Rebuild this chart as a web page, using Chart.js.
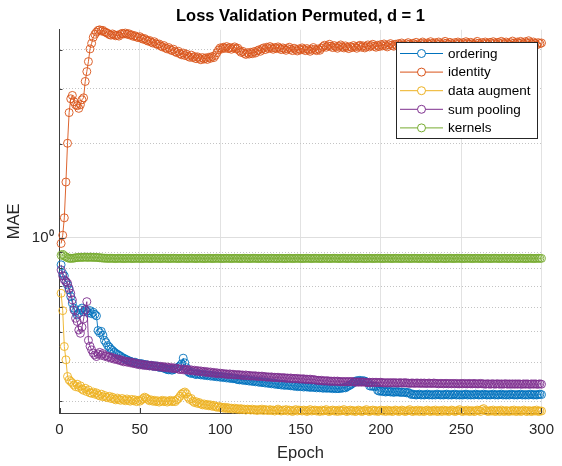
<!DOCTYPE html>
<html>
<head>
<meta charset="utf-8">
<script src="https://cdn.jsdelivr.net/npm/chart.js@4.4.1/dist/chart.umd.min.js"></script>
<style>
  html, body { margin: 0; padding: 0; background: #fff; }
  #wrap { width: 562px; height: 466px; }
</style>
</head>
<body>
<div id="wrap"><canvas id="loss-chart" width="562" height="466"></canvas></div>
<script>
const epochs = Array.from({ length: 300 }, (_, i) => i + 1);
const seriesNames = ["ordering", "identity", "data augment", "sum pooling", "kernels"];
const seriesColors = ["#0072BD", "#D95319", "#EDB120", "#7E2F8E", "#77AC30"];
const xTicks = [0, 50, 100, 150, 200, 250, 300];
const yTicks = [0.3, 0.4, 0.5, 0.6, 0.7, 0.8, 0.9, 1, 2, 3, 4];
const yMin = 0.275, yMax = 4.64;

const ordering = [
  0.82,0.77,0.756,0.725,0.707,0.682,0.649,0.618,0.596,0.581,
  0.567,0.574,0.588,0.596,0.580,0.590,0.583,0.576,0.585,0.572,
  0.578,0.569,0.563,0.505,0.497,0.502,0.488,0.470,0.462,0.452,
  0.447,0.440,0.436,0.431,0.427,0.424,0.421,0.418,0.414,0.412,
  0.409,0.407,0.404,0.403,0.401,0.399,0.400,0.397,0.396,0.395,
  0.396,0.394,0.392,0.393,0.391,0.390,0.391,0.389,0.388,0.389,
  0.387,0.385,0.386,0.384,0.383,0.381,0.379,0.378,0.380,0.377,
  0.379,0.381,0.383,0.386,0.389,0.395,0.412,0.398,0.384,0.373,
  0.370,0.368,0.371,0.367,0.365,0.368,0.366,0.364,0.366,0.363,
  0.365,0.362,0.364,0.361,0.363,0.360,0.362,0.359,0.361,0.358,
  0.360,0.357,0.359,0.356,0.358,0.355,0.357,0.354,0.356,0.353,
  0.352,0.351,0.353,0.350,0.352,0.349,0.351,0.348,0.350,0.347,
  0.349,0.346,0.348,0.345,0.347,0.344,0.346,0.343,0.345,0.342,
  0.344,0.341,0.343,0.340,0.342,0.339,0.341,0.338,0.340,0.337,
  0.339,0.337,0.338,0.336,0.337,0.335,0.337,0.334,0.336,0.334,
  0.335,0.333,0.335,0.333,0.334,0.332,0.334,0.332,0.333,0.331,
  0.333,0.331,0.332,0.330,0.332,0.330,0.331,0.330,0.331,0.329,
  0.331,0.329,0.330,0.329,0.331,0.330,0.332,0.331,0.334,0.336,
  0.338,0.341,0.344,0.347,0.349,0.348,0.350,0.347,0.349,0.348,
  0.346,0.344,0.336,0.335,0.336,0.334,0.335,0.325,0.323,0.324,
  0.322,0.323,0.321,0.322,0.323,0.321,0.322,0.320,0.322,0.321,
  0.322,0.320,0.321,0.320,0.321,0.319,0.320,0.318,0.315,0.316,
  0.315,0.314,0.315,0.316,0.314,0.315,0.314,0.315,0.316,0.314,
  0.315,0.314,0.315,0.314,0.316,0.315,0.314,0.315,0.314,0.315,
  0.316,0.314,0.315,0.314,0.315,0.316,0.314,0.315,0.314,0.315,
  0.314,0.315,0.316,0.314,0.315,0.314,0.315,0.314,0.316,0.315,
  0.314,0.315,0.314,0.316,0.315,0.314,0.315,0.314,0.315,0.316,
  0.314,0.315,0.314,0.315,0.316,0.314,0.315,0.314,0.315,0.314,
  0.316,0.315,0.314,0.315,0.314,0.315,0.316,0.314,0.315,0.314,
  0.315,0.314,0.316,0.315,0.314,0.315,0.314,0.315,0.316,0.315
];

const identity = [
  0.96,1.02,1.16,1.51,2.01,2.52,2.79,2.86,2.73,2.67,
  2.65,2.60,2.67,2.77,2.81,3.17,3.41,3.67,4.03,4.20,
  4.39,4.49,4.56,4.62,4.64,4.60,4.62,4.57,4.55,4.52,
  4.48,4.46,4.50,4.47,4.44,4.46,4.43,4.49,4.52,4.50,
  4.53,4.49,4.51,4.46,4.47,4.42,4.44,4.40,4.38,4.41,
  4.36,4.33,4.35,4.30,4.27,4.29,4.24,4.21,4.25,4.19,
  4.16,4.18,4.12,4.09,4.13,4.06,4.03,4.07,4.01,3.98,
  4.02,3.95,3.92,3.96,3.89,3.86,3.91,3.84,3.88,3.82,
  3.79,3.85,3.78,3.81,3.75,3.80,3.76,3.72,3.78,3.74,
  3.77,3.73,3.79,3.76,3.81,3.78,3.84,3.92,4.00,4.06,
  4.03,4.08,4.05,4.10,4.04,4.07,4.02,4.06,4.09,4.03,
  4.05,3.98,3.93,3.96,3.90,3.87,3.92,3.88,3.93,3.89,
  3.95,3.91,3.97,4.00,3.96,4.03,4.06,4.01,4.08,4.04,
  4.10,4.06,4.02,4.07,4.04,4.09,4.05,4.01,4.06,4.03,
  3.99,4.04,4.08,4.02,3.98,4.05,4.01,3.97,4.03,4.00,
  4.06,4.02,3.98,4.04,4.00,3.96,4.02,4.07,4.01,3.98,
  4.03,3.99,4.05,4.10,4.14,4.08,4.12,4.17,4.11,4.07,
  4.13,4.09,4.05,4.11,4.15,4.09,4.06,4.12,4.08,4.04,
  4.10,4.07,4.13,4.09,4.05,4.11,4.14,4.08,4.12,4.06,
  4.10,4.15,4.09,4.13,4.17,4.11,4.08,4.14,4.10,4.16,
  4.12,4.18,4.13,4.09,4.15,4.19,4.14,4.11,4.17,4.13,
  4.19,4.15,4.21,4.16,4.12,4.18,4.22,4.17,4.14,4.20,
  4.16,4.23,4.18,4.14,4.20,4.24,4.19,4.15,4.21,4.17,
  4.25,4.20,4.16,4.22,4.18,4.24,4.19,4.15,4.21,4.26,
  4.20,4.17,4.23,4.19,4.15,4.22,4.18,4.24,4.20,4.16,
  4.22,4.18,4.25,4.21,4.17,4.23,4.19,4.15,4.21,4.26,
  4.20,4.16,4.22,4.18,4.24,4.20,4.17,4.23,4.19,4.25,
  4.21,4.17,4.23,4.19,4.26,4.22,4.18,4.24,4.20,4.16,
  4.22,4.27,4.21,4.18,4.24,4.20,4.26,4.22,4.18,4.25,
  4.21,4.28,4.22,4.18,4.24,4.20,4.15,4.22,4.19,4.21
];

const dataAugment = [
  0.665,0.585,0.449,0.407,0.360,0.351,0.347,0.343,0.338,0.334,
  0.340,0.332,0.336,0.328,0.325,0.330,0.322,0.326,0.319,0.318,
  0.321,0.316,0.319,0.314,0.312,0.316,0.310,0.313,0.309,0.308,
  0.311,0.306,0.309,0.305,0.303,0.307,0.304,0.302,0.306,0.303,
  0.301,0.305,0.302,0.300,0.304,0.301,0.303,0.299,0.302,0.300,
  0.303,0.306,0.309,0.307,0.304,0.301,0.303,0.300,0.302,0.299,
  0.301,0.298,0.300,0.302,0.299,0.301,0.298,0.300,0.302,0.299,
  0.301,0.299,0.303,0.306,0.311,0.316,0.319,0.321,0.317,0.309,
  0.304,0.306,0.300,0.297,0.299,0.295,0.297,0.294,0.292,0.294,
  0.291,0.293,0.290,0.292,0.289,0.291,0.288,0.287,0.289,0.286,
  0.287,0.285,0.287,0.284,0.286,0.284,0.285,0.283,0.285,0.283,
  0.284,0.282,0.284,0.282,0.283,0.281,0.283,0.282,0.281,0.283,
  0.281,0.282,0.280,0.282,0.281,0.283,0.280,0.282,0.281,0.280,
  0.282,0.280,0.281,0.279,0.281,0.283,0.280,0.279,0.281,0.280,
  0.282,0.279,0.281,0.280,0.278,0.280,0.282,0.279,0.281,0.280,
  0.279,0.281,0.280,0.278,0.280,0.282,0.279,0.280,0.281,0.279,
  0.280,0.278,0.281,0.279,0.280,0.282,0.279,0.278,0.280,0.281,
  0.279,0.280,0.278,0.281,0.279,0.280,0.282,0.279,0.278,0.280,
  0.281,0.279,0.280,0.278,0.279,0.281,0.280,0.278,0.279,0.280,
  0.282,0.279,0.278,0.280,0.281,0.279,0.280,0.278,0.279,0.281,
  0.279,0.280,0.278,0.281,0.279,0.280,0.278,0.279,0.281,0.280,
  0.278,0.279,0.281,0.280,0.278,0.279,0.280,0.282,0.279,0.278,
  0.280,0.279,0.281,0.278,0.280,0.279,0.278,0.280,0.281,0.279,
  0.278,0.280,0.279,0.281,0.278,0.279,0.280,0.278,0.281,0.279,
  0.280,0.278,0.279,0.281,0.280,0.278,0.279,0.280,0.282,0.279,
  0.278,0.280,0.279,0.281,0.278,0.279,0.280,0.278,0.279,0.281,
  0.280,0.278,0.282,0.284,0.280,0.279,0.278,0.280,0.279,0.281,
  0.278,0.279,0.280,0.278,0.281,0.279,0.278,0.280,0.279,0.278,
  0.280,0.279,0.281,0.278,0.279,0.280,0.278,0.279,0.281,0.279,
  0.278,0.280,0.279,0.278,0.280,0.279,0.281,0.278,0.279,0.279
];

const sumPooling = [
  0.79,0.756,0.734,0.725,0.716,0.690,0.665,0.633,0.588,0.553,
  0.540,0.507,0.495,0.518,0.550,0.588,0.625,0.470,0.450,0.438,
  0.428,0.422,0.417,0.425,0.430,0.421,0.426,0.418,0.420,0.415,
  0.417,0.412,0.414,0.409,0.411,0.407,0.409,0.404,0.406,0.401,
  0.403,0.400,0.402,0.398,0.400,0.396,0.398,0.394,0.396,0.392,
  0.394,0.391,0.393,0.390,0.392,0.389,0.391,0.388,0.390,0.387,
  0.389,0.386,0.388,0.385,0.387,0.384,0.386,0.383,0.385,0.382,
  0.384,0.381,0.383,0.380,0.379,0.381,0.378,0.380,0.377,0.379,
  0.376,0.378,0.375,0.377,0.374,0.376,0.373,0.375,0.372,0.374,
  0.371,0.373,0.370,0.372,0.369,0.371,0.368,0.370,0.367,0.369,
  0.367,0.368,0.366,0.367,0.365,0.367,0.365,0.366,0.364,0.365,
  0.364,0.365,0.363,0.364,0.362,0.364,0.362,0.363,0.361,0.362,
  0.361,0.362,0.360,0.361,0.360,0.361,0.359,0.360,0.358,0.359,
  0.358,0.359,0.357,0.358,0.357,0.358,0.356,0.357,0.356,0.357,
  0.355,0.356,0.355,0.356,0.354,0.355,0.354,0.355,0.353,0.354,
  0.353,0.354,0.352,0.353,0.352,0.353,0.351,0.352,0.351,0.350,
  0.350,0.349,0.350,0.348,0.349,0.348,0.349,0.347,0.348,0.347,
  0.348,0.347,0.348,0.347,0.346,0.347,0.346,0.347,0.346,0.347,
  0.346,0.347,0.346,0.345,0.346,0.345,0.346,0.345,0.346,0.345,
  0.345,0.344,0.345,0.344,0.345,0.344,0.345,0.344,0.344,0.345,
  0.344,0.343,0.344,0.343,0.344,0.343,0.344,0.343,0.344,0.343,
  0.343,0.344,0.343,0.343,0.344,0.343,0.343,0.342,0.343,0.343,
  0.342,0.343,0.343,0.342,0.343,0.342,0.343,0.342,0.342,0.343,
  0.342,0.342,0.343,0.342,0.342,0.341,0.342,0.342,0.341,0.342,
  0.342,0.341,0.342,0.341,0.342,0.341,0.342,0.341,0.341,0.342,
  0.341,0.342,0.341,0.341,0.342,0.341,0.341,0.342,0.341,0.341,
  0.341,0.342,0.341,0.341,0.340,0.341,0.341,0.340,0.341,0.341,
  0.340,0.341,0.341,0.340,0.341,0.340,0.341,0.341,0.340,0.341,
  0.340,0.341,0.340,0.341,0.340,0.341,0.340,0.340,0.341,0.340,
  0.341,0.340,0.340,0.341,0.340,0.341,0.340,0.340,0.341,0.340
];

const kernels = [
  0.880,0.885,0.876,0.870,0.864,0.860,0.861,0.860,0.862,0.864,
  0.865,0.866,0.867,0.866,0.867,0.868,0.867,0.866,0.868,0.867,
  0.866,0.867,0.866,0.865,0.864,0.863,0.862,0.861,0.861,0.860,
  0.860,0.861,0.860,0.860,0.859,0.860,0.861,0.860,0.860,0.859,
  0.860,0.860,0.861,0.860,0.859,0.860,0.860,0.861,0.860,0.860,
  0.859,0.860,0.860,0.861,0.860,0.860,0.859,0.860,0.861,0.860,
  0.860,0.860,0.859,0.860,0.861,0.860,0.860,0.859,0.860,0.860,
  0.861,0.860,0.860,0.859,0.860,0.860,0.861,0.860,0.859,0.860,
  0.860,0.861,0.860,0.860,0.859,0.860,0.861,0.860,0.860,0.859,
  0.860,0.860,0.861,0.860,0.859,0.860,0.860,0.861,0.860,0.860,
  0.859,0.860,0.860,0.861,0.860,0.860,0.859,0.860,0.861,0.860,
  0.860,0.860,0.859,0.860,0.861,0.860,0.860,0.859,0.860,0.860,
  0.861,0.860,0.860,0.859,0.860,0.860,0.861,0.860,0.859,0.860,
  0.860,0.861,0.860,0.860,0.859,0.860,0.861,0.860,0.860,0.859,
  0.860,0.860,0.861,0.860,0.859,0.860,0.860,0.861,0.860,0.860,
  0.859,0.860,0.860,0.861,0.860,0.860,0.859,0.860,0.861,0.860,
  0.860,0.860,0.859,0.860,0.861,0.860,0.860,0.859,0.860,0.860,
  0.861,0.860,0.860,0.859,0.860,0.860,0.861,0.860,0.859,0.860,
  0.860,0.861,0.860,0.860,0.859,0.860,0.861,0.860,0.860,0.859,
  0.860,0.860,0.861,0.860,0.859,0.860,0.860,0.861,0.860,0.860,
  0.859,0.860,0.860,0.861,0.860,0.860,0.859,0.860,0.861,0.860,
  0.860,0.860,0.859,0.860,0.861,0.860,0.860,0.859,0.860,0.860,
  0.861,0.860,0.860,0.859,0.860,0.860,0.861,0.860,0.859,0.860,
  0.860,0.861,0.860,0.860,0.859,0.860,0.861,0.860,0.860,0.859,
  0.860,0.860,0.861,0.860,0.859,0.860,0.860,0.861,0.860,0.860,
  0.859,0.860,0.860,0.861,0.860,0.860,0.859,0.860,0.861,0.860,
  0.860,0.860,0.859,0.860,0.861,0.860,0.860,0.859,0.860,0.860,
  0.861,0.860,0.860,0.859,0.860,0.860,0.861,0.860,0.859,0.860,
  0.860,0.861,0.860,0.860,0.859,0.860,0.861,0.860,0.860,0.859,
  0.860,0.860,0.861,0.860,0.859,0.860,0.860,0.861,0.860,0.860
];

const seriesValues = [ordering, identity, dataAugment, sumPooling, kernels];

Chart.defaults.font.family = "'Liberation Sans', Arial, Helvetica, sans-serif";
Chart.defaults.color = "#262626";

// matlab style: ticks point inward
const innerTicks = {
    id: "innerTicks",
    afterDatasetsDraw(chart) {
        const { ctx, chartArea, scales } = chart;
        ctx.save();
        ctx.strokeStyle = "#404040";
        ctx.lineWidth = 1;
        ctx.beginPath();
        xTicks.forEach(v => {
            const x = Math.round(scales.x.getPixelForValue(v)) + 0.5;
            ctx.moveTo(x, chartArea.bottom);
            ctx.lineTo(x, chartArea.bottom - 5);
        });
        yTicks.forEach(v => {
            const y = Math.round(scales.y.getPixelForValue(v)) + 0.5;
            const len = v === 1 ? 5 : 3;
            ctx.moveTo(chartArea.left, y);
            ctx.lineTo(chartArea.left + len, y);
        });
        ctx.stroke();
        ctx.restore();
    }
};

// boxed legend in the top right corner of the axes
const boxLegend = {
    id: "boxLegend",
    afterDraw(chart) {
        const { ctx } = chart;
        const left = 396, top = 42, w = 141, h = 96;
        ctx.save();
        ctx.fillStyle = "#fff";
        ctx.fillRect(left, top, w, h);
        ctx.strokeStyle = "#262626";
        ctx.lineWidth = 1;
        ctx.strokeRect(left + 0.5, top + 0.5, w, h);
        ctx.font = "13.5px 'Liberation Sans', Arial, sans-serif";
        ctx.textBaseline = "middle";
        seriesNames.forEach((name, i) => {
            const y = 53.5 + i * 18.6;
            ctx.strokeStyle = seriesColors[i];
            ctx.lineWidth = 1;
            ctx.beginPath();
            ctx.moveTo(400, y);
            ctx.lineTo(443, y);
            ctx.stroke();
            ctx.fillStyle = "#fff";
            ctx.beginPath();
            ctx.arc(421.5, y, 4, 0, Math.PI * 2);
            ctx.fill();
            ctx.stroke();
            ctx.fillStyle = "#000";
            ctx.fillText(name, 448, y + 0.5);
        });
        ctx.restore();
    }
};

const datasets = seriesNames.map((name, i) => ({
    label: name,
    data: epochs.map((e, k) => ({ x: e, y: seriesValues[i][k] })),
    borderColor: seriesColors[i],
    backgroundColor: seriesColors[i],
    borderWidth: 0.9,
    pointRadius: 4,
    pointHoverRadius: 4,
    pointBorderWidth: 0.9,
    pointBackgroundColor: "rgba(0,0,0,0)",
    pointBorderColor: seriesColors[i],
    tension: 0,
    clip: false,
    order: seriesNames.length - 1 - i
}));

new Chart(document.getElementById("loss-chart"), {
    type: "line",
    data: { datasets },
    options: {
        responsive: false,
        animation: false,
        layout: { padding: { left: 0, right: 13, top: 0, bottom: 0 } },
        plugins: {
            legend: { display: false },
            tooltip: { enabled: false },
            title: {
                display: true,
                text: "Loss Validation Permuted, d = 1",
                fullSize: false,
                color: "#000",
                font: { size: 16.5, weight: "bold" },
                padding: { top: 7, bottom: 3 }
            }
        },
        scales: {
            x: {
                type: "linear",
                min: 0,
                max: 300,
                afterBuildTicks: s => { s.ticks = xTicks.map(v => ({ value: v })); },
                afterFit: s => { s.height = 53; },
                ticks: { font: { size: 15 }, padding: 8, maxRotation: 0 },
                grid: {
                    drawTicks: false,
                    lineWidth: 1,
                    color: c => (c.tick && c.tick.value === 0) ? "rgba(0,0,0,0)" : "#e2e2e2"
                },
                border: { display: true, color: "#404040", width: 1 },
                title: { display: true, text: "Epoch", font: { size: 16.5 }, padding: { top: 0, bottom: 3 } }
            },
            y: {
                type: "logarithmic",
                min: yMin,
                max: yMax,
                afterBuildTicks: s => { s.ticks = yTicks.map(v => ({ value: v })); },
                afterFit: s => { s.width = 59.5; },
                ticks: {
                    autoSkip: false,
                    font: { size: 15 },
                    padding: 6,
                    callback: v => v === 1 ? "10\u2070" : ""
                },
                grid: {
                    drawTicks: false,
                    lineWidth: 1,
                    color: c => (c.tick && c.tick.value === 1) ? "#dedede" : "#c4c4c4"
                },
                border: {
                    display: true,
                    color: "#404040",
                    width: 1,
                    dash: c => (c.tick && c.tick.value !== 1) ? [1, 2] : []
                },
                title: { display: true, text: "MAE", font: { size: 16.5 }, padding: { top: 5, bottom: 0 } }
            }
        }
    },
    plugins: [innerTicks, boxLegend]
});
</script>
</body>
</html>
